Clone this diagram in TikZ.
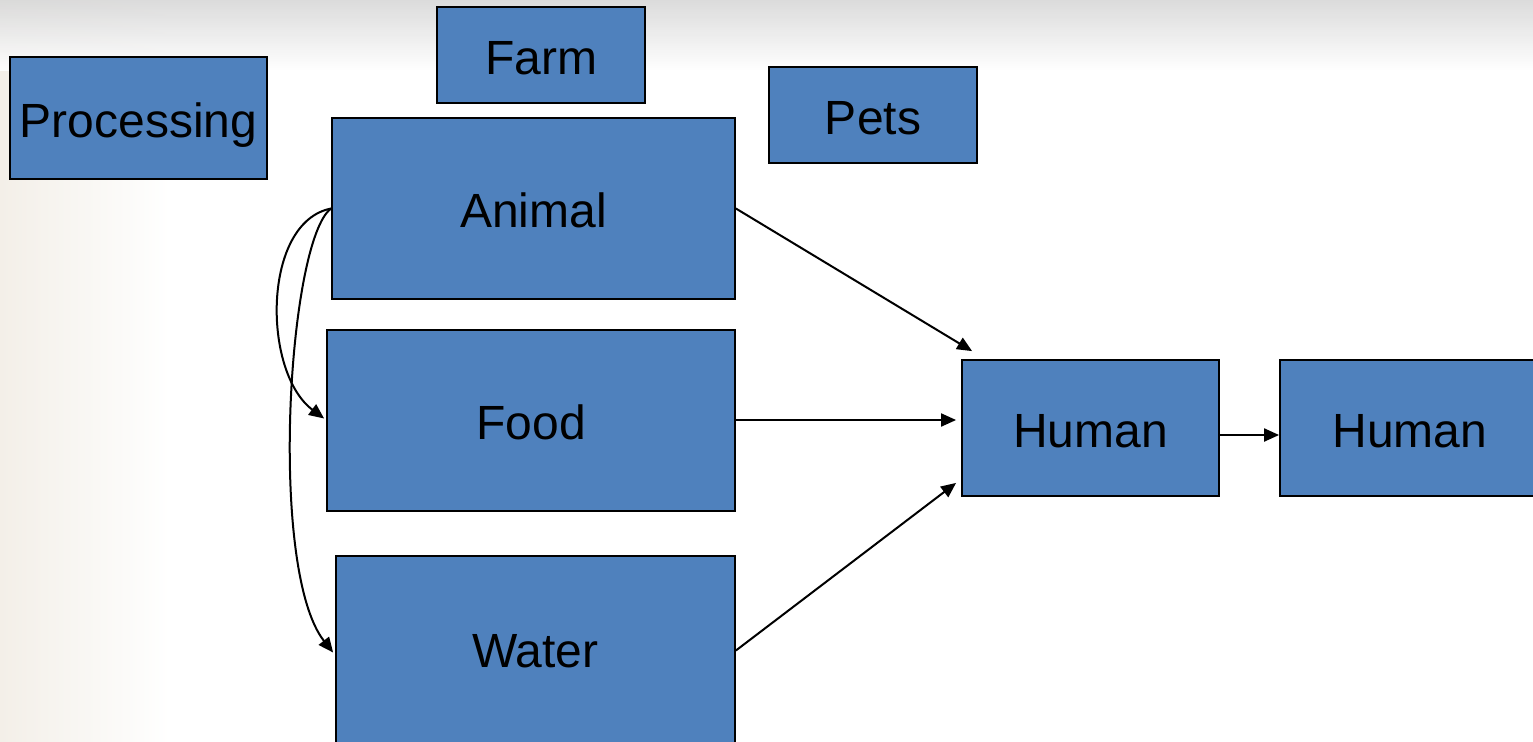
\documentclass[tikz,border=0pt]{standalone}
\usepackage{fontspec}
\setmainfont{Liberation Sans}
\usetikzlibrary{arrows.meta}
\definecolor{boxblue}{HTML}{4F81BD}
\definecolor{beige}{RGB}{243,239,232}
\definecolor{topgray}{RGB}{216,216,216}
\begin{document}
\begin{tikzpicture}[x=0.5pt,y=-0.5pt,
  box/.style={draw=black,line width=0.9pt,fill=boxblue,inner sep=0pt,
    font=\fontsize{24}{29}\selectfont,text height=17.2pt,text depth=0pt},
  conn/.style={line width=1pt,-{Triangle[length=7.5pt,width=6.5pt]}}]
\useasboundingbox (0,0) rectangle (1533,741);
\fill[white] (0,0) rectangle (1533,741);
\shade[left color=beige,right color=white] (0,0) rectangle (170,741);
\shade[top color=topgray,bottom color=white,opacity=0.9] (0,0) rectangle (1533,70);
\node[box,minimum width=128.5pt,minimum height=61pt] (proc) at (138.5,118) {\raisebox{-1pt}{Processing}};
\node[box,minimum width=104pt,minimum height=48pt] (farm) at (541,55) {\raisebox{-1pt}{Farm}};
\node[box,minimum width=104pt,minimum height=48pt] (pets) at (873,115) {\raisebox{-1pt}{Pets}};
\node[box,minimum width=201.5pt,minimum height=90.5pt] (animal) at (533.5,208.5) {\raisebox{-1pt}{Animal}};
\node[box,minimum width=204pt,minimum height=90.5pt] (food) at (531,420.5) {\raisebox{-1pt}{Food}};
\node[box,minimum width=199.5pt,minimum height=94.5pt] (water) at (535.5,650.5) {Water};
\node[box,minimum width=128.5pt,minimum height=68pt] (h1) at (1090.5,428) {\raisebox{-1pt}{Human}};
\node[box,minimum width=130pt,minimum height=68pt] (h2) at (1410,428) {\raisebox{-1pt}{Human}};
\draw[conn] (animal.east) -- ([shift={(5.5pt,4pt)}]h1.north west);
\draw[conn] (food.east |- 0,420) -- ([shift={(-2.5pt,4pt)}]h1.west);
\draw[conn] (water.east) -- ([shift={(-2.5pt,7pt)}]h1.south west);
\draw[conn] (h1.east |- 0,435) -- (h2.west |- 0,435);
\draw[conn] (animal.west) .. controls (262,222) and (262,372) .. ([shift={(-1pt,1pt)}]food.west);
\draw[conn] (animal.west) .. controls (288,240) and (268,570) .. ([shift={(-1pt,-1pt)}]water.west);
\end{tikzpicture}
\end{document}
